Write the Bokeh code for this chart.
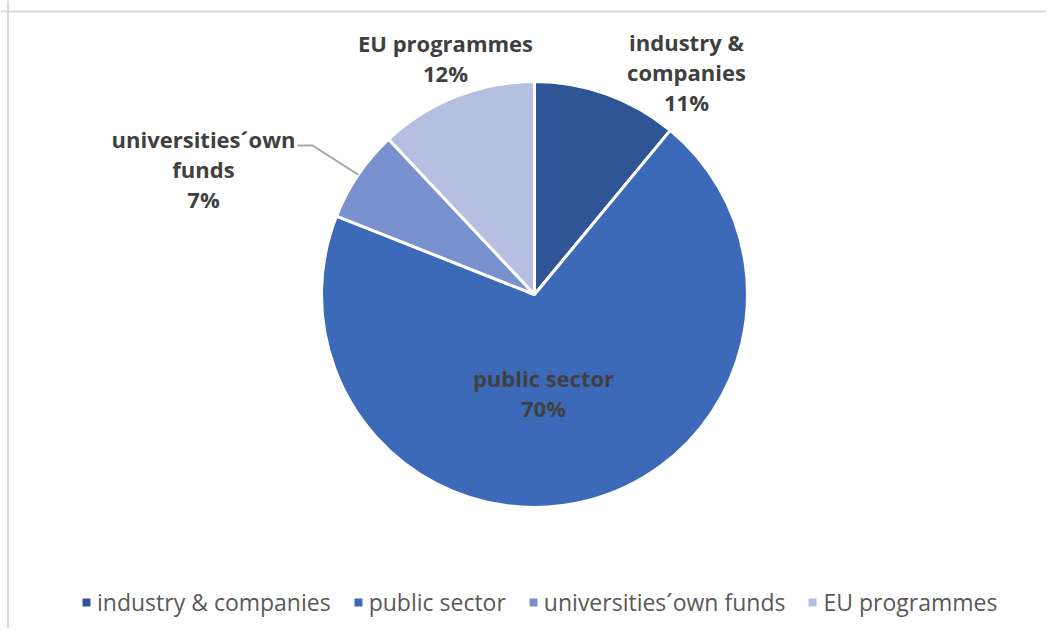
import numpy as np
from bokeh.plotting import figure
from bokeh.models import Range1d, Legend, LegendItem, ColumnDataSource, Span
from bokeh.core.properties import value
from bokeh.embed import file_html
from bokeh.resources import INLINE

# ---- data ----
categories = ["industry & companies", "public sector", "universities\u00b4own funds", "EU programmes"]
shares = [11, 70, 7, 12]
colors = ["#2F5597", "#3D6AB8", "#7A91CF", "#B4BFE1"]
label_lines = [["industry &", "companies"], ["public sector"], ["universities\u00b4own", "funds"], ["EU programmes"]]

# ---- layout (pixel space of the chart) ----
W, H = 1046, 628
def Y(py):
    return H - py

cx, cy, R = 534, Y(294), 213
# label block anchor (center x, first line middle y) per category
label_anchor = [(686, 41), (543, 377), (203, 138), (445, 42)]
line_gap = 30

p = figure(width=W, height=H, output_backend="svg", toolbar_location=None,
           x_range=Range1d(0, W), y_range=Range1d(0, H),
           x_axis_location=None, y_axis_location=None, min_border=0,
           background_fill_color="white", border_fill_color="white")
p.grid.visible = False
p.outline_line_color = None

# frame (only top and left edges visible in view)
p.add_layout(Span(location=7.5, dimension="height", line_color="#D9D9D9", line_width=2))
p.add_layout(Span(location=Y(11), dimension="width", line_color="#D9D9D9", line_width=2))

vals = np.array(shares, dtype=float)
frac = vals / vals.sum()
cum = np.concatenate([[0], np.cumsum(frac)])
start = np.pi / 2 - 2 * np.pi * cum[:-1]
end = np.pi / 2 - 2 * np.pi * cum[1:]
mid = (start + end) / 2

src = ColumnDataSource(dict(start=start, end=end, color=colors, cat=categories))
p.wedge(x=cx, y=cy, radius=R, start_angle="start", end_angle="end", direction="clock",
        fill_color="color", line_color="white", line_width=3, source=src)

# leader line for universities' own funds
ui = 2
ex, ey = cx + R * np.cos(mid[ui]), cy + R * np.sin(mid[ui])
p.line([297, 312, ex], [Y(145), Y(145), ey], line_color="#A6A6A6", line_width=2)

# data labels
tx, ty, tt = [], [], []
for i, lines in enumerate(label_lines):
    ax, ay = label_anchor[i]
    all_lines = lines + [f"{shares[i]}%"]
    for k, t in enumerate(all_lines):
        tx.append(ax)
        ty.append(Y(ay + k * line_gap))
        tt.append(t)
p.text(x=tx, y=ty, text=tt, text_align="center", text_baseline="middle",
       text_font=value("Open Sans"), text_font_style="bold", text_font_size="22px",
       text_color="#404040")

# legend
items = []
for c, col in zip(categories, colors):
    r = p.rect(x=[np.nan], y=[np.nan], width=1, height=1, fill_color=col, line_color=None)
    items.append(LegendItem(label=c, renderers=[r]))
legend = Legend(items=items, orientation="horizontal", location=(81, 10),
                glyph_width=10, glyph_height=10, label_standoff=6, spacing=22,
                padding=0, margin=0, background_fill_alpha=0, border_line_color=None,
                label_text_font="Open Sans", label_text_font_size="23px",
                label_text_color="#595959")
p.add_layout(legend)

open("out.html", "w").write(file_html(p, INLINE))
